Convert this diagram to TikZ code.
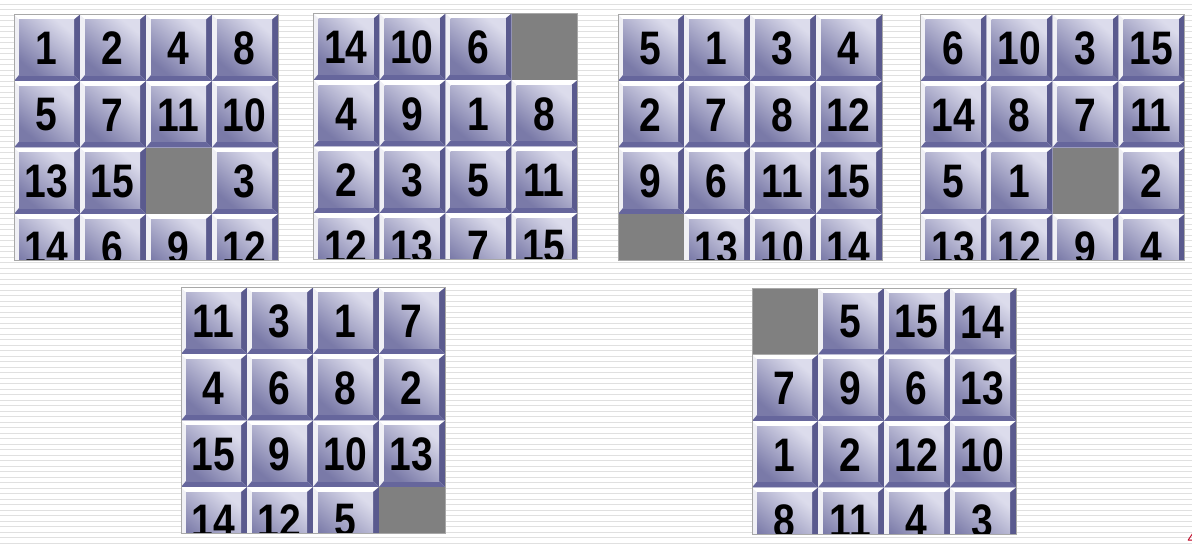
\documentclass[tikz,border=0pt]{standalone}
\usepackage{fontspec}
\usepackage{graphicx}
\setmainfont{Liberation Sans}
\definecolor{navyR}{HTML}{5A5A8E}
\definecolor{navyB}{HTML}{66669C}
\definecolor{faceL}{HTML}{DCDCEC}
\definecolor{faceD}{HTML}{7A7AA8}
\definecolor{leftW}{HTML}{F0F0F5}
\definecolor{stripec}{HTML}{E0E0E0}
\definecolor{emptyc}{HTML}{808080}
\definecolor{framec}{HTML}{A8A8A8}
\definecolor{pagered}{HTML}{C00020}
\tikzset{
  stripeline/.style={draw=stripec, line width=1.3pt},
  digit/.style={inner sep=0pt, text=black, font=\fontsize{47}{47}\selectfont\bfseries},
  framebox/.style={draw=framec, line width=1pt},
}
\newcommand\drawpuzzle[4]{%
  \begin{scope}[shift={(#2,#3)}]
    \fill[white] (0,0) rectangle (264,246);
    \begin{scope}
      \clip (0,0) rectangle (264,246);
      \foreach \v [count=\i from 0] in {#4} {
        \pgfmathtruncatemacro\cc{mod(\i,4)}
        \pgfmathtruncatemacro\rr{div(\i,4)}
        \pgfmathsetmacro\tx{\cc*66}
        \pgfmathsetmacro\ty{\rr*66.5}
        \begin{scope}[shift={(\tx,\ty)}]
          \ifnum\v=0\relax
            \fill[emptyc] (0,0) rectangle (66,66.5);
          \else
            \fill[white] (0,0) -- (66,0) -- (60,5) -- (5,5) -- cycle;
            \fill[leftW] (0,0) -- (5,5) -- (5,60.5) -- (0,66.5) -- cycle;
            \fill[navyR] (66,0) -- (66,66.5) -- (60,60.5) -- (60,5) -- cycle;
            \fill[navyB] (0,66.5) -- (66,66.5) -- (60,60.5) -- (5,60.5) -- cycle;
            \shade[top color=faceL, bottom color=faceD, shading angle=-40] (5,5) rectangle (60,60.5);
            \node[digit] (#1-\i) at (32.5,34) {\scalebox{0.83}[1]{\v}};
          \fi
        \end{scope}
      }
    \end{scope}
    \draw[framebox] (0,0) rectangle (264,246);
  \end{scope}}
\begin{document}
\begin{tikzpicture}[x=1pt,y=-1pt]
\useasboundingbox (0,0) rectangle (1192,547);
\fill[white] (0,0) rectangle (1192,547);
\foreach \k in {0,...,98} {
  \draw[stripeline] (0,4.3+5.5*\k) -- (1192,4.3+5.5*\k);
}
\drawpuzzle{pa}{14}{14.5}{1,2,4,8,5,7,11,10,13,15,0,3,14,6,9,12}
\drawpuzzle{pb}{313.5}{13.5}{14,10,6,0,4,9,1,8,2,3,5,11,12,13,7,15}
\drawpuzzle{pc}{618}{14.5}{5,1,3,4,2,7,8,12,9,6,11,15,0,13,10,14}
\drawpuzzle{pd}{920.5}{14.5}{6,10,3,15,14,8,7,11,5,1,0,2,13,12,9,4}
\drawpuzzle{pe}{181}{287.5}{11,3,1,7,4,6,8,2,15,9,10,13,14,12,5,0}
\drawpuzzle{pf}{752}{288}{0,5,15,14,7,9,6,13,1,2,12,10,8,11,4,3}
\node[text=pagered, font=\fontsize{15}{15}\selectfont, anchor=west, inner sep=0pt] (pagenum) at (1187.5,538) {4};
\end{tikzpicture}
\end{document}
